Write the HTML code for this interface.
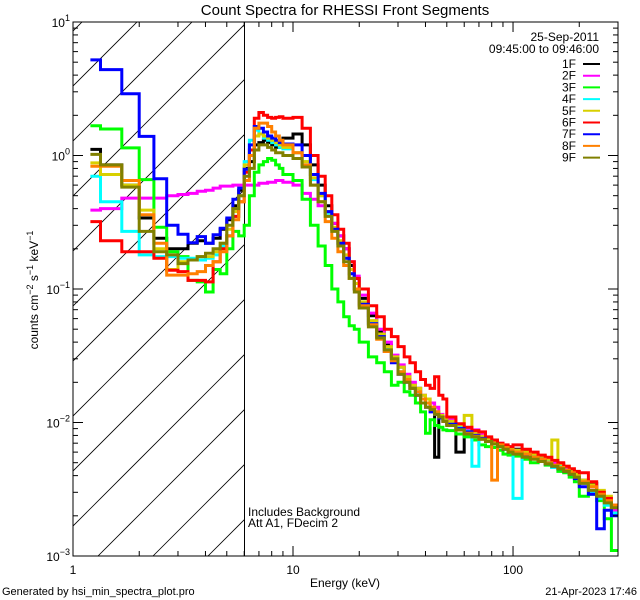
<!DOCTYPE html>
<html><head><meta charset="utf-8"><style>
html,body{margin:0;padding:0;background:#fff;}
svg{display:block;font-family:"Liberation Sans",sans-serif;}
</style></head><body>
<svg id="chart" width="640" height="600" viewBox="0 0 640 600" xmlns="http://www.w3.org/2000/svg">
<rect x="0" y="0" width="640" height="600" fill="#fff"/>
<text x="345" y="15" font-size="15" text-anchor="middle">Count Spectra for RHESSI Front Segments</text>
<defs><clipPath id="plotclip"><rect x="73" y="22" width="545" height="534"/></clipPath>
<clipPath id="hatchclip"><rect x="73" y="22" width="171" height="534"/></clipPath></defs>
<g id="hatch" clip-path="url(#hatchclip)"></g>
<line x1="244.5" y1="22" x2="244.5" y2="556" stroke="#000" stroke-width="1"/>
<g id="series" clip-path="url(#plotclip)"></g>
<g id="axes"></g>
<text x="345" y="587" font-size="12" text-anchor="middle">Energy (keV)</text>
<text transform="translate(38,290) rotate(-90)" font-size="12" text-anchor="middle">counts cm<tspan dy="-5" font-size="9">−2</tspan><tspan dy="5"> s</tspan><tspan dy="-5" font-size="9">−1</tspan><tspan dy="5"> keV</tspan><tspan dy="-5" font-size="9">−1</tspan></text>
<text x="248" y="516" font-size="12">Includes Background</text>
<text x="248" y="527" font-size="12">Att A1, FDecim 2</text>
<text x="2" y="595" font-size="11">Generated by hsi_min_spectra_plot.pro</text>
<text x="637" y="595" font-size="11" text-anchor="end">21-Apr-2023 17:46</text>
<text x="599" y="41" font-size="12" text-anchor="end">25-Sep-2011</text>
<text x="599" y="53" font-size="12" text-anchor="end">09:45:00 to 09:46:00</text>
<g id="legend"></g>
</svg>
<script>
const edges=[1.2,1.333,1.667,2,2.333,2.667,3,3.333,3.667,4,4.333,4.667,5,5.333,5.667,6,6.333,6.667,7,7.333,7.667,8,8.333,8.667,9,10,11,12,13,14,15,16,17,18,19,20,22,24,26,28,30,32,34,36,38,40,42,44,46,48,50,55,60,65,70,75,80,85,90,95,100,110,120,130,140,150,160,170,180,190,200,220,240,260,280,300];
const seriesNames=["1F","2F","3F","4F","5F","6F","7F","8F","9F"];
const seriesColors=["#000000","#ff00ff","#00ff00","#00ffff","#d8d000","#ff0000","#0000ff","#ff8000","#808000"];
const s1F=[1.11,0.85,0.6,0.34,0.24,0.2,0.2,0.22,0.23,0.22,0.24,0.28,0.33,0.42,0.55,0.8,
0.9,1.2,1.25,1.3,1.25,1.2,1.15,1.2,
1.35,1.45,1.2,0.85,0.6,0.42,0.31,0.25,0.2,0.15,0.12,
0.085,0.063,0.048,0.038,0.031,0.026,0.022,0.019,0.018,0.015,0.014,0.0125,0.0055,0.011,0.0105,
0.0098,0.006,0.0088,0.0082,0.0078,0.0075,0.0071,0.0069,0.0066,0.0064,
0.0063,0.006,0.0056,0.0055,0.0052,0.005,0.0048,0.0045,0.0042,0.0041,
0.0037,0.0035,0.0028,0.0026,0.0023];
const s2F=[0.39,0.40,0.48,0.48,0.48,0.5,0.51,0.52,0.54,0.55,0.57,0.59,0.59,0.6,0.6,0.6,
0.6,0.6,0.62,0.62,0.63,0.63,0.65,0.65,
0.63,0.6,0.52,0.47,0.42,0.37,0.31,0.25,0.2,0.16,0.125,
0.09,0.066,0.05,0.04,0.032,0.027,0.023,0.02,0.018,0.016,0.015,0.014,0.013,0.0115,0.011,
0.0105,0.0095,0.009,0.0088,0.0082,0.0074,0.0072,0.007,0.0066,0.0063,
0.0062,0.0059,0.0055,0.0056,0.0053,0.005,0.0049,0.0046,0.0043,0.004,
0.0037,0.0033,0.0028,0.0026,0.0022];
const s3F=[1.67,1.58,1.14,0.66,0.29,0.19,0.175,0.116,0.113,0.095,0.14,0.13,0.2,0.27,0.25,0.3,
0.5,0.75,0.85,0.9,0.95,0.92,0.85,0.8,
0.72,0.65,0.47,0.3,0.21,0.15,0.1,0.08,0.062,0.053,0.05,
0.04,0.031,0.028,0.024,0.019,0.02,0.017,0.016,0.014,0.012,0.0083,0.0105,0.0095,0.0092,0.0088,
0.0087,0.0082,0.0078,0.0074,0.0068,0.0066,0.0065,0.0062,0.0058,0.0057,
0.0056,0.0053,0.005,0.0051,0.0048,0.0046,0.0043,0.0042,0.0039,0.0036,
0.0028,0.0029,0.0026,0.0019,0.0011];
const s4F=[0.7,0.45,0.27,0.18,0.175,0.175,0.17,0.17,0.165,0.17,0.18,0.21,0.25,0.35,0.5,0.9,
1.3,1.55,1.45,1.35,1.3,1.25,1.2,1.15,
1.12,1.05,0.9,0.66,0.5,0.37,0.28,0.22,0.17,0.13,0.1,
0.078,0.056,0.045,0.036,0.03,0.024,0.021,0.018,0.017,0.015,0.014,0.0125,0.0115,0.011,0.0105,
0.0098,0.0092,0.0086,0.0047,0.0076,0.0073,0.007,0.0067,0.0064,0.0062,
0.0027,0.0058,0.0055,0.0053,0.0051,0.0046,0.0047,0.0044,0.0042,0.0039,
0.0035,0.003,0.0027,0.0024,0.0021];
const s5F=[0.88,0.72,0.6,0.39,0.2,0.14,0.16,0.165,0.175,0.175,0.19,0.22,0.28,0.38,0.5,0.85,
1.0,1.4,1.45,1.4,1.35,1.3,1.25,1.2,
1.15,1.05,0.9,0.68,0.5,0.38,0.29,0.23,0.18,0.14,0.11,
0.08,0.058,0.046,0.037,0.031,0.026,0.022,0.019,0.018,0.016,0.015,0.013,0.012,0.0113,0.0108,
0.0102,0.0096,0.0113,0.0084,0.0079,0.0076,0.0072,0.0069,0.0067,0.0064,
0.0062,0.006,0.0058,0.0056,0.0053,0.0074,0.0049,0.0047,0.0044,0.0041,
0.0037,0.0034,0.0031,0.0028,0.0024];
const s6F=[0.32,0.23,0.19,0.19,0.17,0.138,0.135,0.116,0.116,0.113,0.16,0.2,0.25,0.35,0.45,0.75,
1.1,1.9,2.1,2.0,1.93,1.9,1.93,1.95,
1.9,1.93,1.6,1.0,0.7,0.5,0.36,0.28,0.22,0.16,0.12,
0.1,0.075,0.062,0.05,0.044,0.037,0.031,0.028,0.024,0.021,0.019,0.018,0.022,0.016,0.015,
0.011,0.0098,0.0092,0.0087,0.0085,0.0078,0.0074,0.007,0.0068,0.0066,
0.0068,0.0063,0.006,0.0057,0.0055,0.0052,0.005,0.0047,0.0045,0.0043,
0.0042,0.0036,0.003,0.0027,0.0024];
const s7F=[5.2,4.4,2.9,1.39,0.67,0.3,0.257,0.222,0.247,0.22,0.255,0.285,0.34,0.47,0.57,0.79,
1.2,1.65,1.6,1.5,1.4,1.35,1.3,1.25,
1.22,1.2,1.0,0.72,0.52,0.38,0.28,0.22,0.17,0.13,0.1,
0.077,0.055,0.044,0.034,0.028,0.023,0.02,0.018,0.016,0.015,0.013,0.012,0.0115,0.0108,0.0102,
0.0097,0.009,0.0085,0.008,0.0076,0.0072,0.0069,0.0066,0.0063,0.006,
0.0059,0.0057,0.0054,0.0052,0.0049,0.0047,0.0045,0.0043,0.0041,0.0038,
0.0033,0.0029,0.0016,0.0022,0.002];
const s8F=[0.83,0.83,0.65,0.36,0.22,0.127,0.127,0.13,0.135,0.15,0.16,0.19,0.25,0.33,0.45,0.65,
1.0,1.6,1.75,1.75,1.65,1.5,1.4,1.3,
1.2,1.05,0.85,0.6,0.45,0.32,0.24,0.19,0.15,0.12,0.1,
0.075,0.054,0.042,0.034,0.029,0.024,0.021,0.018,0.017,0.015,0.014,0.013,0.012,0.011,0.0102,
0.0095,0.0088,0.0083,0.0079,0.0075,0.0072,0.0037,0.0068,0.0065,0.0062,
0.006,0.0058,0.0055,0.0053,0.005,0.0048,0.0046,0.0044,0.0042,0.0039,
0.0036,0.0033,0.0029,0.0026,0.0024];
const s9F=[1.02,0.85,0.58,0.27,0.19,0.18,0.155,0.165,0.175,0.185,0.2,0.22,0.3,0.4,0.5,0.7,
0.8,1.1,1.2,1.2,1.15,1.1,1.05,1.05,
1.0,0.95,0.82,0.6,0.45,0.35,0.27,0.21,0.16,0.12,0.095,
0.072,0.052,0.043,0.035,0.03,0.023,0.02,0.018,0.016,0.014,0.013,0.0125,0.0115,0.011,0.0102,
0.0095,0.0088,0.0082,0.0078,0.0075,0.0072,0.0069,0.0066,0.0063,0.006,
0.0058,0.0055,0.0053,0.0051,0.0049,0.0047,0.0045,0.0043,0.0041,0.0039,
0.0035,0.0031,0.0028,0.0025,0.0023];
const allSeries=[s1F,s2F,s3F,s4F,s5F,s6F,s7F,s8F,s9F];
const xTickLabels=["1","10","100"];
const xTickValues=[1,10,100];
const yTickExps=["1","0","−1","−2","−3"];
const yTickValues=[10,1,0.1,0.01,0.001];

const NS="http://www.w3.org/2000/svg";
const L=73,R=618,T=22,B=556;
const xMin=1,xMax=300,yMin=0.001,yMax=10;
function xs(e){return L+(Math.log10(e)-Math.log10(xMin))/(Math.log10(xMax)-Math.log10(xMin))*(R-L);}
function ys(v){return B-(Math.log10(v)-Math.log10(yMin))/(Math.log10(yMax)-Math.log10(yMin))*(B-T);}
function mk(tag,attrs,parent){const el=document.createElementNS(NS,tag);for(const k in attrs)el.setAttribute(k,attrs[k]);parent.appendChild(el);return el;}

const hatch=document.getElementById('hatch');
for(let c=104;c<=820;c+=55){
  const ln=mk('line',{x1:c-600,y1:600,x2:c,y2:0,stroke:'#000','stroke-width':0.8},hatch);
  
  
}

const sg=document.getElementById('series');
allSeries.forEach((vals,si)=>{
  let d='M'+xs(edges[0]).toFixed(1)+' '+ys(vals[0]).toFixed(1);
  for(let i=0;i<vals.length;i++){
    if(i>0)d+=' V'+ys(vals[i]).toFixed(1);
    d+=' H'+xs(edges[i+1]).toFixed(1);
  }
  const p=mk('path',{d:d,fill:'none',stroke:seriesColors[si],'stroke-width':3,'stroke-linejoin':'miter'},sg);
  
  
});

const ag=document.getElementById('axes');
const box=mk('rect',{x:L,y:T,width:R-L,height:B-T,fill:'none',stroke:'#000','stroke-width':1},ag);


for(let dec=1;dec<=100;dec*=10){
  for(let m=1;m<=9;m++){
    const e=dec*m; if(e>xMax)break;
    const x=xs(e), len=(m===1)?10:5;
    const t1=mk('line',{x1:x,y1:B,x2:x,y2:B-len,stroke:'#000','stroke-width':1},ag);
    
    
    const t2=mk('line',{x1:x,y1:T,x2:x,y2:T+len,stroke:'#000','stroke-width':1},ag);
    
    
  }
}
xTickValues.forEach((v,i)=>{
  const t=mk('text',{x:xs(v),y:574,'font-size':12,'text-anchor':'middle'},ag);
  t.textContent=xTickLabels[i];
  
  
});
for(let dec=0.001;dec<9;dec*=10){
  for(let m=1;m<=9;m++){
    const v=dec*m; const y=ys(v); const len=(m===1)?10:5;
    const t1=mk('line',{x1:L,y1:y,x2:L+len,y2:y,stroke:'#000','stroke-width':1},ag);
    
    
    const t2=mk('line',{x1:R,y1:y,x2:R-len,y2:y,stroke:'#000','stroke-width':1},ag);
    
    
  }
}
yTickValues.forEach((v,i)=>{
  const t=mk('text',{x:L-3,y:ys(v)+5,'font-size':12,'text-anchor':'end'},ag);
  
  
  const a=document.createElementNS(NS,'tspan');a.textContent='10';t.appendChild(a);
  const b=document.createElementNS(NS,'tspan');b.setAttribute('dy','-6');b.setAttribute('font-size','9');b.textContent=yTickExps[i];t.appendChild(b);
});

const lg=document.getElementById('legend');
seriesNames.forEach((n,i)=>{
  const y=68+i*11.7;
  const t=mk('text',{x:576,y:y,'font-size':12,'text-anchor':'end'},lg);
  t.textContent=n;
  
  
  const ln=mk('line',{x1:583,y1:y-4,x2:600,y2:y-4,stroke:seriesColors[i],'stroke-width':2},lg);
  
  
});
</script>
</body></html>
